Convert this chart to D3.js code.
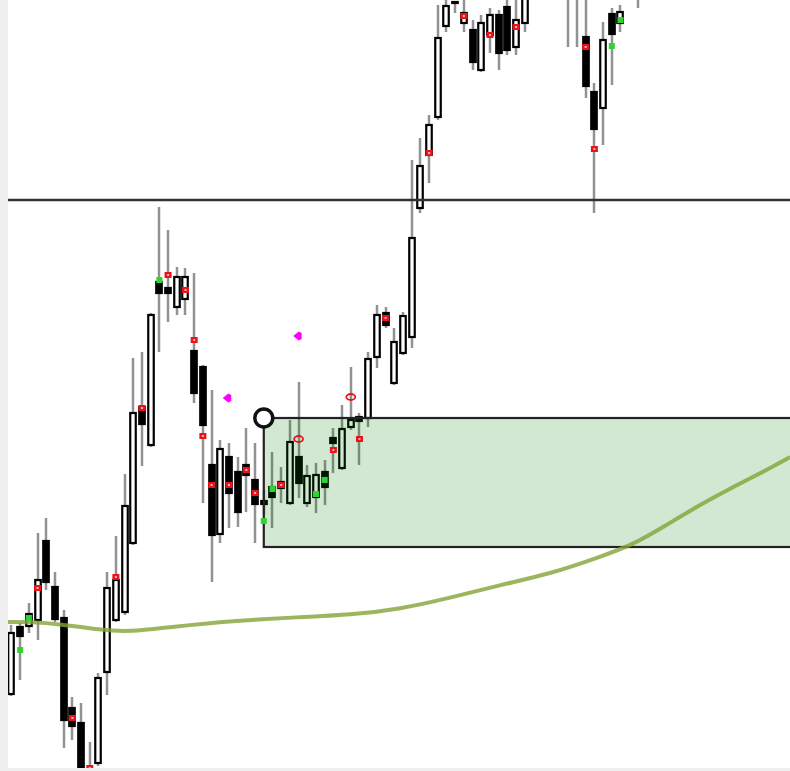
<!DOCTYPE html>
<html><head><meta charset="utf-8">
<script src="https://cdn.jsdelivr.net/npm/d3@7"></script>
<style>html,body{margin:0;padding:0;background:#f0f0f0;}svg{display:block;}</style>
</head><body>
<script>
// ---- data (bar index, open, high, low, close) ----
const barIndex = [0,1,2,3,4,5,6,7,8,9,10,11,12,13,14,15,16,17,18,19,20,21,22,23,24,25,26,27,28,29,30,31,32,33,34,35,36,37,38,39,40,41,42,43,44,45,46,47,48,49,50,51,52,53,54,55,56,57,58,59,64,65,66,67,68,69,70,72];
const openP  = [1077,1144,1145,1151,1230,1184,1153,1063,1048,998,1008,1099,1151,1159,1228,1364,1326,1489,1483,1464,1472,1420,1404,1306,1237,1314,1299,1306,1291,1270,1284,1289,1268,1314,1268,1274,1299,1333,1303,1344,1354,1353,1414,1458,1388,1418,1434,1563,1616,1654,1745,1768,1748,1741,1701,1736,1756,1764,1724,1748,1781,1776,1734,1679,1663,1757,1748,1781];
const highP  = [1146,1148,1168,1238,1253,1199,1161,1074,1068,1029,1098,1199,1235,1297,1413,1419,1458,1564,1541,1504,1503,1498,1406,1381,1331,1328,1314,1343,1328,1281,1319,1304,1351,1389,1306,1308,1311,1343,1366,1404,1358,1419,1466,1464,1443,1459,1611,1633,1656,1766,1773,1770,1776,1751,1756,1763,1761,1774,1771,1791,1806,1801,1776,1688,1749,1763,1766,1796];
const lowP   = [1075,1091,1138,1131,1181,1149,1023,1031,986,971,1005,1076,1149,1156,1226,1305,1324,1419,1449,1456,1456,1368,1268,1189,1228,1243,1244,1259,1228,1256,1243,1268,1266,1273,1264,1258,1266,1298,1301,1341,1306,1344,1403,1443,1386,1416,1423,1558,1588,1651,1739,1758,1739,1701,1699,1718,1701,1716,1716,1739,1724,1724,1673,1558,1626,1686,1739,1763];
const closeP = [1138,1135,1157,1191,1189,1152,1051,1045,996,981,1093,1183,1191,1265,1358,1347,1456,1478,1478,1494,1494,1378,1346,1236,1322,1278,1259,1296,1267,1267,1274,1283,1329,1288,1295,1296,1284,1328,1342,1351,1350,1412,1456,1446,1429,1455,1533,1605,1646,1733,1765,1769,1758,1709,1748,1756,1718,1721,1751,1786,1796,1791,1685,1642,1731,1737,1759,1791];

// moving average (bar index, value)
const maIndex = [-0.4,2.1,5.6,10.2,13.6,18.2,22.8,27.4,33.2,38.9,44.7,50.4,56.1,61.9,67.6,71.4,75.3,79.1,82.9,86.8,89.5];
const maValue = [1149,1149,1147,1141,1139,1144,1148,1151,1154,1156,1162,1173,1186,1197,1214,1226,1246,1266,1284,1301,1314];

// signal markers
const redIdx   = [3,7,9,12,15,18,20,21,22,23,25,27,28,31,37,40,43,48,52,55,58,66,67];
const redVal   = [1183,1053,1003,1194,1363,1496,1481,1431,1335,1286,1286,1301,1278,1286,1321,1332,1453,1618,1755,1736,1744,1724,1622];
const ringIdx  = [33,39];
const ringVal  = [1332,1374];
const greenIdx = [1,2,17,29,30,35,36,69,70];
const greenVal = [1121,1153,1491,1250,1282,1277,1291,1725,1751];
const arrowIdx = [24.8,32.9];
const arrowVal = [1373,1435];

// levels / zone
const hLevel = 1571;
const zoneStartIdx = 29;
const zoneTop = 1353;
const zoneBottom = 1224;

// ---- drawing ----
const W = 790, H = 771;
const svg = d3.select("body").append("svg").attr("width", W).attr("height", H);
const plot = {x0: 8, x1: 790, y0: 0, y1: 768};
svg.append("rect").attr("x",0).attr("y",0).attr("width",W).attr("height",H).attr("fill","#f0f0f0");
svg.append("rect").attr("x",plot.x0).attr("y",plot.y0).attr("width",plot.x1-plot.x0).attr("height",plot.y1-plot.y0).attr("fill","#ffffff");
svg.append("clipPath").attr("id","clip").append("rect")
  .attr("x",plot.x0).attr("y",plot.y0).attr("width",plot.x1-plot.x0).attr("height",plot.y1-plot.y0);

const x = d3.scaleLinear().domain([-0.4, 89.6]).range([8, 791]);
const y = d3.scaleLinear().domain([1003, 1771]).range([768, 0]);

const g = svg.append("g").attr("clip-path","url(#clip)");

const bars = barIndex.map((i,k)=>({i, o:openP[k], h:highP[k], l:lowP[k], c:closeP[k]}));

// wicks
g.append("g").selectAll("line").data(bars).join("line")
  .attr("x1",d=>Math.round(x(d.i))).attr("x2",d=>Math.round(x(d.i)))
  .attr("y1",d=>y(d.h)).attr("y2",d=>y(d.l))
  .attr("stroke","#929292").attr("stroke-width",2.5);

// bodies
const bw = 5.5;
g.append("g").selectAll("rect").data(bars).join("rect")
  .attr("x",d=>Math.round(x(d.i))-bw/2)
  .attr("width",bw)
  .attr("y",d=>y(Math.max(d.o,d.c)))
  .attr("height",d=>Math.max(1, Math.abs(y(d.o)-y(d.c))))
  .attr("fill",d=>d.c>=d.o?"#ffffff":"#000000")
  .attr("stroke","#000").attr("stroke-width",2.2);

// zone rectangle
g.append("rect")
  .attr("x",x(zoneStartIdx)).attr("y",y(zoneTop))
  .attr("width",plot.x1 - x(zoneStartIdx) + 10)
  .attr("height",y(zoneBottom)-y(zoneTop))
  .attr("fill","rgb(0,124,0)").attr("fill-opacity",0.173)
  .attr("stroke","#222").attr("stroke-width",2.2);

// moving average
g.append("path")
  .datum(maIndex.map((v,k)=>[v, maValue[k]]))
  .attr("d", d3.line().x(d=>x(d[0])).y(d=>y(d[1])).curve(d3.curveBasis))
  .attr("fill","none").attr("stroke","#84a236").attr("stroke-width",4).attr("stroke-opacity",0.8);

// horizontal level
g.append("line").attr("x1",plot.x0).attr("x2",plot.x1).attr("y1",y(hLevel)).attr("y2",y(hLevel))
  .attr("stroke","#333").attr("stroke-width",2.3);

// markers
const rm = g.append("g");
redIdx.forEach((v,k)=>{
  const cx = x(v), cy = y(redVal[k]);
  rm.append("rect").attr("x",cx-3.5).attr("y",cy-3).attr("width",7).attr("height",6).attr("fill","#e8141a");
  rm.append("rect").attr("x",cx-1).attr("y",cy-1).attr("width",2).attr("height",2).attr("fill","#ffb0b0");
});
ringIdx.forEach((v,k)=>{
  rm.append("ellipse").attr("cx",x(v)).attr("cy",y(ringVal[k])).attr("rx",4.5).attr("ry",3)
    .attr("fill","none").attr("stroke","#e8141a").attr("stroke-width",1.8);
});
greenIdx.forEach((v,k)=>{
  const cx = x(v), cy = y(greenVal[k]);
  rm.append("rect").attr("x",cx-3).attr("y",cy-3).attr("width",6).attr("height",6).attr("fill","#2fd42f");
});
arrowIdx.forEach((v,k)=>{
  const cx = x(v), cy = y(arrowVal[k]);
  rm.append("path").attr("d",`M${cx-4.5},${cy} L${cx+1},${cy-4.5} L${cx+4},${cy-3} L${cx+4},${cy+3} L${cx+1},${cy+4.5} Z`).attr("fill","#ff00ff");
});

// anchor circle
g.append("circle").attr("cx",x(zoneStartIdx)).attr("cy",y(zoneTop)).attr("r",9)
  .attr("fill","#ffffff").attr("stroke","#111").attr("stroke-width",3.5);
</script>
</body></html>
